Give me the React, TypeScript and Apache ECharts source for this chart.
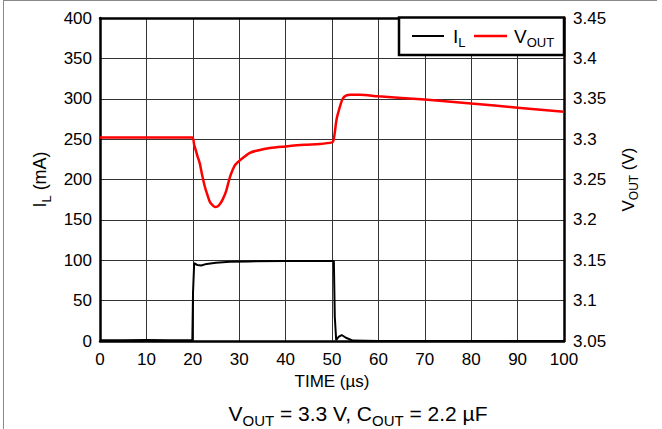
import React, { useEffect, useRef } from "react";
import * as echarts from "echarts";

// ---------- data ----------
const tIL = [0, 5, 10, 15, 19.9, 20.05, 20.3, 21, 21.8, 23, 25, 28, 32, 40, 50.4, 50.6, 50.9, 51.4, 52.1, 53, 54.5, 60, 80, 100];
const vIL = [0.8, 1, 1.2, 1, 0.8, 60, 96.5, 94, 93.5, 95.5, 97, 98, 98.6, 99, 99, 30, 1, 5, 7.4, 4, 0.5, 0, 0, 0];

const tV = [0, 10, 19.8, 20.3, 21, 21.5, 22, 22.6, 23.2, 23.7, 24.3, 24.8, 25.4, 26, 26.5, 27.2, 28, 28.6, 29.1, 30, 32.3, 34, 36.6, 40, 44, 47.4, 50, 50.3, 50.6, 51, 51.7, 52.3, 53, 54, 56, 60, 70, 80, 90, 100];
const vV = [3.302, 3.302, 3.302, 3.293, 3.279, 3.27, 3.256, 3.241, 3.23, 3.222, 3.218, 3.216, 3.217, 3.221, 3.226, 3.236, 3.253, 3.262, 3.268, 3.273, 3.283, 3.286, 3.289, 3.291, 3.293, 3.294, 3.296, 3.298, 3.308, 3.325, 3.34, 3.35, 3.354, 3.355, 3.355, 3.353, 3.349, 3.344, 3.339, 3.334];

const xMin = 0, xMax = 100, xStep = 10;
const iMin = 0, iMax = 400, iStep = 50;
const vMin = 3.05, vMax = 3.45, vStep = 0.05;

const FONT = "Liberation Sans, Arial, sans-serif";

const sub = (base: number, subSize: number, lh: number) => ({
  n: { fontSize: base, fontFamily: FONT, color: "#000", lineHeight: lh },
  s: { fontSize: subSize, fontFamily: FONT, color: "#000", lineHeight: subSize, verticalAlign: "bottom" },
});

export default function App() {
  const ref = useRef<HTMLDivElement>(null);
  useEffect(() => {
    if (!ref.current) return;
    const chart = echarts.init(ref.current, null, { renderer: "svg" });
    const axisLabel = { fontSize: 17, fontFamily: FONT, color: "#000" };
    chart.setOption({
      animation: false,
      backgroundColor: "#fff",
      grid: { left: 100, top: 18, width: 464, height: 323, containLabel: false },
      xAxis: [
        {
          type: "value",
          min: xMin,
          max: xMax,
          interval: xStep,
          position: "bottom",
          axisLine: { show: true, lineStyle: { color: "#000", width: 2.5 } },
          axisTick: { show: false },
          axisLabel: { ...axisLabel, margin: 10 },
          splitLine: { show: true, lineStyle: { color: "#333", width: 1 } },
          name: "TIME (µs)",
          nameLocation: "middle",
          nameGap: 28,
          nameTextStyle: { fontSize: 17, fontFamily: FONT, color: "#000" },
        },
        {
          type: "value",
          min: xMin,
          max: xMax,
          interval: xStep,
          position: "top",
          axisLine: { show: true, onZero: false, lineStyle: { color: "#000", width: 2.5 } },
          axisTick: { show: false },
          axisLabel: { show: false },
          splitLine: { show: false },
        },
      ],
      yAxis: [
        {
          type: "value",
          min: iMin,
          max: iMax,
          interval: iStep,
          position: "left",
          axisLine: { show: true, onZero: false, lineStyle: { color: "#000", width: 2.5 } },
          axisTick: { show: false },
          axisLabel: { ...axisLabel, margin: 8 },
          splitLine: { show: true, lineStyle: { color: "#333", width: 1 } },
          name: "{n|I}{s|L}{n| (mA)}",
          nameLocation: "middle",
          nameGap: 47,
          nameTextStyle: { rich: sub(18, 13, 25) },
        },
        {
          type: "value",
          min: vMin,
          max: vMax,
          interval: vStep,
          position: "right",
          axisLine: { show: true, onZero: false, lineStyle: { color: "#000", width: 2.5 } },
          axisTick: { show: false },
          axisLabel: {
            ...axisLabel,
            margin: 9,
            formatter: (v: number) => String(parseFloat(v.toFixed(2))),
          },
          splitLine: { show: false },
          name: "{n|V}{s|OUT}{n| (V)}",
          nameLocation: "middle",
          nameGap: 52,
          nameTextStyle: { rich: sub(17, 12, 24) },
        },
      ],
      series: [
        {
          name: "IL",
          type: "line",
          xAxisIndex: 0,
          yAxisIndex: 0,
          data: tIL.map((t, i) => [t, vIL[i]]),
          showSymbol: false,
          smooth: false,
          lineStyle: { color: "#000", width: 2 },
          z: 3,
        },
        {
          name: "VOUT",
          type: "line",
          xAxisIndex: 0,
          yAxisIndex: 1,
          data: tV.map((t, i) => [t, vV[i]]),
          showSymbol: false,
          smooth: 0.3,
          lineStyle: { color: "#f00", width: 2.5 },
          z: 3,
        },
      ],
      graphic: [
        { type: "line", z: 100, shape: { x1: 3.5, y1: 0, x2: 3.5, y2: 429 }, style: { stroke: "#888", lineWidth: 1 } },
        { type: "line", z: 100, shape: { x1: 3, y1: 0.5, x2: 657, y2: 0.5 }, style: { stroke: "#888", lineWidth: 1 } },
        {
          type: "rect",
          z: 100,
          shape: { x: 399, y: 17.5, width: 165, height: 37.5 },
          style: { fill: "#fff", stroke: "#000", lineWidth: 2.5 },
        },
        { type: "line", z: 101, shape: { x1: 412, y1: 36, x2: 444, y2: 36 }, style: { stroke: "#000", lineWidth: 2 } },
        {
          type: "text",
          z: 101,
          x: 453,
          y: 36,
          style: { text: "{n|I}{s|L}", rich: sub(19, 13, 26), verticalAlign: "middle", align: "left" },
        },
        { type: "line", z: 101, shape: { x1: 474, y1: 36, x2: 507, y2: 36 }, style: { stroke: "#f00", lineWidth: 2.5 } },
        {
          type: "text",
          z: 101,
          x: 514,
          y: 36,
          style: { text: "{n|V}{s|OUT}", rich: sub(19, 13, 26), verticalAlign: "middle", align: "left" },
        },
        {
          type: "text",
          z: 101,
          x: 358,
          y: 413,
          style: {
            text: "{n|V}{s|OUT}{n| = 3.3 V, C}{s|OUT}{n| = 2.2 µF}",
            rich: sub(21, 15, 29),
            verticalAlign: "middle",
            align: "center",
          },
        },
      ],
    });
    return () => chart.dispose();
  }, []);
  return (
    <div
      ref={ref}
      style={{ position: "absolute", left: 0, top: 0, width: 662, height: 429 }}
    />
  );
}
